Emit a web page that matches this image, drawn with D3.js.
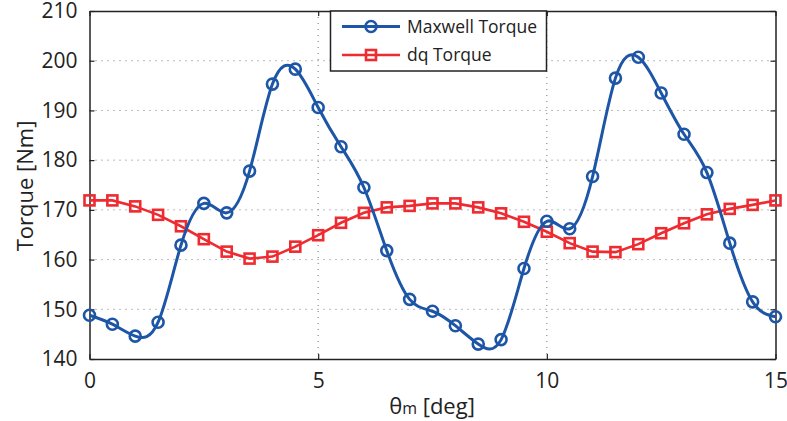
<!DOCTYPE html>
<html>
<head>
<meta charset="utf-8">
<script src="https://cdn.jsdelivr.net/npm/d3@7/dist/d3.min.js"></script>
<style>
  html, body { margin: 0; padding: 0; background: #fff; }
  svg { display: block; font-family: "Open Sans", "Noto Sans", sans-serif; }
</style>
</head>
<body>
<svg id="chart" width="787" height="421"></svg>
<script>
const angles = [0,0.5,1,1.5,2,2.5,3,3.5,4,4.5,5,5.5,6,6.5,7,7.5,8,8.5,9,9.5,10,10.5,11,11.5,12,12.5,13,13.5,14,14.5,15];
const maxwellTorque = [148.8,147.0,144.6,147.4,162.9,171.3,169.4,177.8,195.3,198.3,190.6,182.7,174.5,161.8,152.0,149.6,146.7,143.0,143.9,158.2,167.7,166.2,176.7,196.5,200.7,193.5,185.2,177.5,163.3,151.5,148.5];
const dqTorque = [171.9,171.9,170.7,169.0,166.7,164.1,161.6,160.2,160.6,162.6,164.9,167.4,169.4,170.5,170.8,171.3,171.3,170.5,169.3,167.6,165.6,163.3,161.6,161.5,163.1,165.3,167.3,169.1,170.2,171.0,171.9];
const seriesNames = ["Maxwell Torque", "dq Torque"];
const xTicks = [0,5,10,15];
const yTicks = [140,150,160,170,180,190,200,210];

const blue = "#1d56a6", red = "#ee2b30";
const svg = d3.select("#chart");
const L = 89.5, R = 775.5, T = 11, B = 359;
const x = d3.scaleLinear().domain([0,15]).range([L,R]);
const y = d3.scaleLinear().domain([140,210]).range([B,T]);

// grid
const grid = svg.append("g");
grid.selectAll("line.gy").data(yTicks.filter(d => d>140 && d<210)).join("line")
  .attr("x1", L).attr("x2", R).attr("y1", d=>y(d)).attr("y2", d=>y(d))
  .attr("stroke", "#777").attr("stroke-width", 1).attr("stroke-dasharray", "1,5");
grid.selectAll("line.gx").data(xTicks.filter(d => d>0 && d<15)).join("line")
  .attr("y1", T).attr("y2", B).attr("x1", d=>x(d)).attr("x2", d=>x(d))
  .attr("stroke", "#777").attr("stroke-width", 1).attr("stroke-dasharray", "1,5");

// axes
const fs = 21;
const axL = svg.append("g").attr("transform", `translate(${L},0)`)
  .call(d3.axisLeft(y).tickValues(yTicks).tickSizeInner(-5).tickSizeOuter(0).tickPadding(12));
const axB = svg.append("g").attr("transform", `translate(0,${B})`)
  .call(d3.axisBottom(x).tickValues(xTicks).tickSizeInner(-5).tickSizeOuter(0).tickPadding(14));
const axT = svg.append("g").attr("transform", `translate(0,${T})`)
  .call(d3.axisTop(x).tickValues(xTicks).tickSizeInner(-5).tickSizeOuter(0).tickFormat(""));
const axR = svg.append("g").attr("transform", `translate(${R},0)`)
  .call(d3.axisRight(y).tickValues(yTicks).tickSizeInner(-5).tickSizeOuter(0).tickFormat(""));
[axL, axB, axT, axR].forEach(a => {
  a.select(".domain").attr("stroke", "#222").attr("stroke-width", 1.5);
  a.selectAll(".tick line").attr("stroke", "#222").attr("stroke-width", 1.2);
  a.selectAll(".tick text").attr("fill", "#222").style("font-size", fs+"px").style("font-family", "'Open Sans', sans-serif");
});

// lines
const clip = svg.append("clipPath").attr("id","clip").append("rect")
  .attr("x", L).attr("y", T).attr("width", R-L).attr("height", B-T);
const mData = angles.map((a,i)=>[a, maxwellTorque[i]]);
const dData = angles.map((a,i)=>[a, dqTorque[i]]);
const plot = svg.append("g");
plot.append("path").datum(dData)
  .attr("d", d3.line().x(d=>x(d[0])).y(d=>y(d[1])).curve(d3.curveLinear))
  .attr("fill","none").attr("stroke", red).attr("stroke-width", 2.6);
plot.selectAll("rect.dq").data(dData).join("rect")
  .attr("x", d=>x(d[0])-5).attr("y", d=>y(d[1])-5).attr("width",10).attr("height",10)
  .attr("fill","none").attr("stroke", red).attr("stroke-width", 2.6);
plot.append("path").datum(mData)
  .attr("d", d3.line().x(d=>x(d[0])).y(d=>y(d[1])).curve(d3.curveNatural))
  .attr("fill","none").attr("stroke", blue).attr("stroke-width", 3);
plot.selectAll("circle.mx").data(mData).join("circle")
  .attr("cx", d=>x(d[0])).attr("cy", d=>y(d[1])).attr("r", 5.5)
  .attr("fill","none").attr("stroke", blue).attr("stroke-width", 2.6);

// axis labels
svg.append("text").attr("x", 432).attr("y", 414).attr("text-anchor","middle")
  .attr("fill","#222").style("font-size","22px")
  .call(t => { t.append("tspan").text("θ"); t.append("tspan").style("font-size","16px").text("m"); t.append("tspan").text(" [deg]"); });
svg.append("text").attr("transform", "translate(33,186) rotate(-90)").attr("text-anchor","middle")
  .attr("fill","#222").style("font-size","22px").text("Torque [Nm]");

// legend
const lg = svg.append("g");
lg.append("rect").attr("x", 330.5).attr("y", 11).attr("width", 216).attr("height", 60)
  .attr("fill","#fff").attr("stroke","#222").attr("stroke-width",1.5);
const rows = [{name: seriesNames[0], color: blue, cy: 26.5, m: "circle"}, {name: seriesNames[1], color: red, cy: 55, m: "square"}];
rows.forEach(r => {
  lg.append("line").attr("x1", 342).attr("x2", 400).attr("y1", r.cy).attr("y2", r.cy)
    .attr("stroke", r.color).attr("stroke-width", r.m==="circle"?3:2.6);
  if (r.m === "circle") lg.append("circle").attr("cx", 371).attr("cy", r.cy).attr("r", 5.5).attr("fill","none").attr("stroke", r.color).attr("stroke-width",2.6);
  else lg.append("rect").attr("x", 366).attr("y", r.cy-5).attr("width",10).attr("height",10).attr("fill","none").attr("stroke", r.color).attr("stroke-width",2.6);
  lg.append("text").attr("x", 407).attr("y", r.cy+6).attr("fill","#222").style("font-size","17.5px").text(r.name);
});
</script>
</body>
</html>
